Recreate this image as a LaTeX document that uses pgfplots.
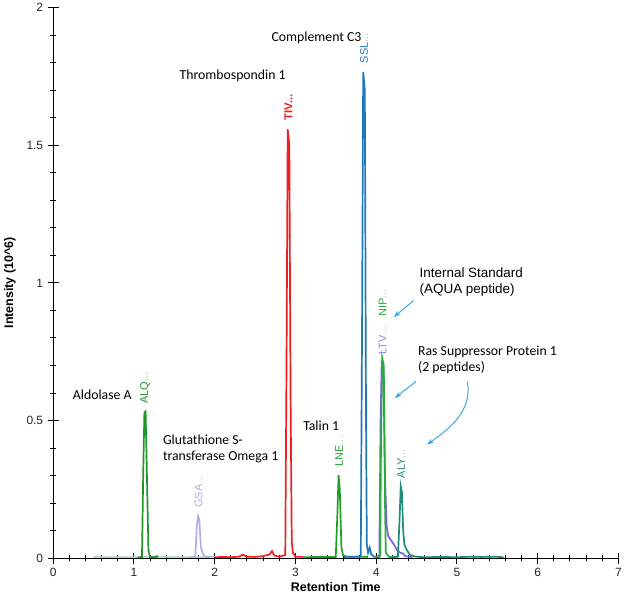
\documentclass[border=0pt]{standalone}
\usepackage{pgfplots}
\pgfplotsset{compat=1.18}
\usepackage{fontspec}
\setmainfont{Liberation Sans}
\newfontfamily\calibri{Carlito}
\usetikzlibrary{arrows.meta}
\definecolor{alqgreen}{RGB}{30,150,40}
\definecolor{gsalav}{RGB}{180,170,228}
\definecolor{tivred}{RGB}{240,30,30}
\definecolor{lnegreen}{RGB}{30,160,40}
\definecolor{sslblue}{RGB}{30,120,190}
\definecolor{ltvpurple}{RGB}{120,100,220}
\definecolor{nipgreen}{RGB}{40,170,60}
\definecolor{alyteal}{RGB}{30,140,120}
\definecolor{arrowblue}{RGB}{60,170,225}
\definecolor{basegray}{RGB}{170,210,205}
\begin{document}
\begin{tikzpicture}
\begin{axis}[
  scale only axis, width=566.7pt, height=552.3pt,
  xmin=0, xmax=7, ymin=0, ymax=2,
  axis lines=left,
  axis line style={-, black, line width=0.9pt},
  clip=false,
  xtick={0,1,2,3,4,5,6,7}, ytick={0,0.5,1,1.5,2},
  minor x tick num=4, minor y tick num=4,
  tick align=center,
  tickwidth=11pt, subtickwidth=6pt,
  tick style={black, line width=1pt},
  ticklabel style={font=\fontsize{12}{14}\selectfont, text=black!85},
  yticklabel style={xshift=-1pt, /pgf/number format/assume math mode=true},
  xticklabel style={yshift=-1pt, /pgf/number format/assume math mode=true},
  xlabel={\textbf{Retention Time}},
  ylabel={\textbf{Intensity (10\^{}6)}},
  label style={font=\fontsize{12.5}{15}\selectfont},
  xlabel style={yshift=1pt},
  ylabel style={yshift=4pt},
]
% light baseline
\addplot[basegray, line width=1.5pt] coordinates {(0.5,0.005)(0.8,0.004)(1.1,0.005)(1.3,0.006)(1.6,0.004)(2.0,0.005)};
% ALQ - Aldolase A
\addplot[alqgreen, line width=1.7pt] coordinates {(1.05,0.003)(1.10,0.004)(1.115,0.3)(1.13,0.53)(1.145,0.534)(1.16,0.32)(1.18,0.03)(1.20,0.005)(1.26,0.004)(1.28,0.008)(1.30,0.004)};
% GSA - Glutathione S-transferase
\addplot[gsalav, line width=1.7pt] coordinates {(1.70,0.004)(1.76,0.006)(1.78,0.12)(1.795,0.153)(1.81,0.14)(1.83,0.04)(1.86,0.012)(1.90,0.006)(1.95,0.004)};
% TIV - Thrombospondin 1
\addplot[tivred, line width=1.7pt] coordinates {(2.0,0.004)(2.1,0.005)(2.2,0.004)(2.3,0.006)(2.35,0.013)(2.4,0.006)(2.5,0.005)(2.6,0.008)(2.68,0.014)(2.71,0.026)(2.74,0.01)(2.8,0.006)(2.875,0.012)(2.89,0.7)(2.905,1.558)(2.925,1.5)(2.94,0.6)(2.955,0.06)(2.97,0.02)(3.0,0.006)(3.1,0.005)};
% LNE - Talin 1
\addplot[lnegreen, line width=1.7pt] coordinates {(3.1,0.004)(3.3,0.005)(3.5,0.005)(3.52,0.16)(3.535,0.302)(3.55,0.25)(3.57,0.04)(3.59,0.012)(3.62,0.007)(3.7,0.005)(3.8,0.006)(3.9,0.005)};
% SSL - Complement C3
\addplot[sslblue, line width=1.7pt] coordinates {(3.6,0.005)(3.75,0.006)(3.81,0.008)(3.825,0.8)(3.84,1.766)(3.86,1.7)(3.875,0.5)(3.885,0.05)(3.90,0.02)(3.92,0.039)(3.94,0.015)(3.97,0.006)(4.05,0.004)};
% LTV - Ras Suppressor Protein 1
\addplot[ltvpurple, line width=1.7pt] coordinates {(3.98,0.005)(4.04,0.008)(4.055,0.5)(4.07,0.72)(4.09,0.68)(4.11,0.3)(4.13,0.12)(4.15,0.08)(4.18,0.068)(4.22,0.05)(4.26,0.03)(4.30,0.02)(4.33,0.018)(4.36,0.008)(4.45,0.004)};
% NIP - Internal standard
\addplot[nipgreen, line width=1.7pt] coordinates {(4.0,0.005)(4.05,0.01)(4.06,0.4)(4.075,0.728)(4.095,0.7)(4.11,0.2)(4.12,0.02)(4.16,0.005)(4.25,0.004)};
% ALY - Ras Suppressor Protein 1
\addplot[alyteal, line width=1.7pt] coordinates {(4.2,0.004)(4.27,0.006)(4.29,0.14)(4.305,0.262)(4.32,0.24)(4.335,0.1)(4.35,0.05)(4.38,0.03)(4.42,0.012)(4.49,0.006)(4.6,0.004)(4.8,0.005)(5.0,0.004)(5.2,0.006)(5.3,0.005)(5.45,0.006)(5.58,0.004)};

% peptide labels
\node[rotate=90, anchor=west, inner sep=0pt, font=\fontsize{11}{13}\selectfont, text=alqgreen] at (axis cs:1.14,0.56) {ALQ\textcolor{alqgreen!50}{...}};
\node[rotate=90, anchor=west, inner sep=0pt, font=\fontsize{11}{13}\selectfont, text=gsalav] at (axis cs:1.80,0.183) {GSA\textcolor{gsalav!60}{...}};
\node[rotate=90, anchor=west, inner sep=0pt, font=\fontsize{11.5}{13}\selectfont\bfseries, text=tivred] at (axis cs:2.915,1.59) {TIV...};
\node[rotate=90, anchor=west, inner sep=0pt, font=\fontsize{11}{13}\selectfont, text=lnegreen] at (axis cs:3.54,0.333) {LNE\textcolor{lnegreen!50}{...}};
\node[rotate=90, anchor=west, inner sep=0pt, font=\fontsize{11}{13}\selectfont, text=sslblue] at (axis cs:3.85,1.797) {SSL\textcolor{sslblue!50}{...}};
\node[rotate=90, anchor=west, inner sep=0pt, font=\fontsize{11}{13}\selectfont, text=ltvpurple!80] at (axis cs:4.08,0.74) {LTV\textcolor{ltvpurple!45}{...}};
\node[rotate=90, anchor=west, inner sep=0pt, font=\fontsize{11}{13}\selectfont, text=nipgreen] at (axis cs:4.08,0.877) {NIP\textcolor{nipgreen!45}{...}};
\node[rotate=90, anchor=west, inner sep=0pt, font=\fontsize{11}{13}\selectfont, text=alyteal] at (axis cs:4.31,0.29) {ALY\textcolor{alyteal!50}{...}};

% protein annotations
\node[anchor=west, inner sep=0pt, font=\calibri\fontsize{13.8}{16}\selectfont] at (axis cs:2.703,1.891) {Complement C3};
\node[anchor=west, inner sep=0pt, font=\calibri\fontsize{13.8}{16}\selectfont] at (axis cs:1.564,1.753) {Thrombospondin 1};
\node[anchor=west, inner sep=0pt, font=\calibri\fontsize{13.8}{16}\selectfont] at (axis cs:0.243,0.594) {Aldolase A};
\node[anchor=west, inner sep=0pt, align=left, font=\calibri\fontsize{13.8}{16}\selectfont] at (axis cs:1.358,0.399) {Glutathione S-\\transferase Omega 1};
\node[anchor=west, inner sep=0pt, font=\calibri\fontsize{13.8}{16}\selectfont] at (axis cs:3.095,0.482) {Talin 1};
\node[anchor=west, inner sep=0pt, align=left, font=\fontsize{13.5}{16.5}\selectfont] at (axis cs:4.536,1.004) {Internal Standard\\(AQUA peptide)};
\node[anchor=west, inner sep=0pt, align=left, font=\calibri\fontsize{13.8}{16}\selectfont] at (axis cs:4.518,0.719) {Ras Suppressor Protein 1\\(2 peptides)};

% arrows
\draw[arrowblue, line width=1pt, -{Stealth[length=7pt,width=5pt]}] (axis cs:4.465,0.936) -- (axis cs:4.218,0.876);
\draw[arrowblue, line width=1pt, -{Stealth[length=7pt,width=5pt]}] (axis cs:4.494,0.642) -- (axis cs:4.231,0.582);
\draw[arrowblue, line width=1pt, -{Stealth[length=7pt,width=5pt]}] (axis cs:5.13,0.642) to[out=-80,in=35] (axis cs:4.63,0.413);
\end{axis}
\path (-53.3pt,-44pt) rectangle (571.7pt,559pt);
\end{tikzpicture}
\end{document}
